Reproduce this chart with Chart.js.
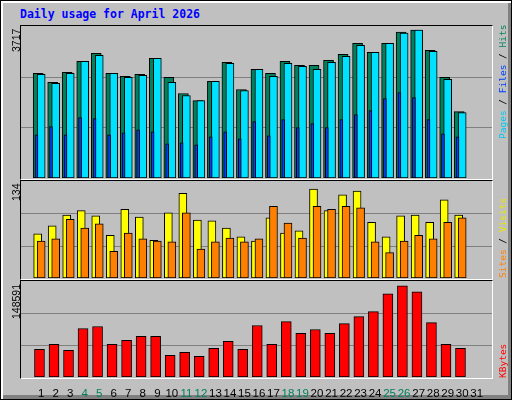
<!DOCTYPE html>
<html><head><meta charset="utf-8">
<script src="https://cdn.jsdelivr.net/npm/chart.js@4"></script>
<style>
html,body{margin:0;padding:0;}
#wrap{position:relative;width:510px;height:398px;background:#C0C0C0;border:1px solid #000;box-shadow:inset 2px 2px 0 #fff, inset -3px -4px 0 #808080;overflow:hidden;}
.t{position:absolute;white-space:nowrap;}
.rot{position:absolute;white-space:nowrap;transform:rotate(-90deg);transform-origin:left top;line-height:1;}
canvas{position:absolute;}
.frame{position:absolute;border-top:1px solid #000;border-left:1px solid #000;border-right:1px solid #fff;border-bottom:1px solid #fff;pointer-events:none;}
</style></head><body>
<div id="wrap">
<div class="t" style="left:19px;top:6px;font:bold 11.5px 'DejaVu Sans Mono';color:#0000FF;">Daily usage for April 2026</div>
<canvas id="c1" style="left:20px;top:25px;width:471px;height:152px" width="471" height="152"></canvas>
<canvas id="c2" style="left:20px;top:180px;width:471px;height:97px" width="471" height="97"></canvas>
<canvas id="c3" style="left:20px;top:280px;width:471px;height:118px" width="471" height="118"></canvas>
<div class="frame" style="left:19px;top:24px;width:471px;height:153px"></div>
<div class="frame" style="left:19px;top:179px;width:471px;height:98px"></div>
<div class="frame" style="left:19px;top:279px;width:471px;height:97px"></div>
<div class="rot" id="m1" style="left:9px;top:51px;font:10.5px 'Liberation Sans';color:#000"></div>
<div class="rot" id="m2" style="left:9px;top:200px;font:10.5px 'Liberation Sans';color:#000"></div>
<div class="rot" id="m3" style="left:9px;top:318px;font:10.5px 'Liberation Sans';color:#000"></div>
<div class="rot" style="left:496px;top:138px;font:9.5px 'DejaVu Sans Mono'"><span style="color:#00C8F0">Pages</span><span style="color:#000"> / </span><span style="color:#0040FF">Files</span><span style="color:#000"> / </span><span style="color:#00805C">Hits</span></div>
<div class="rot" style="left:496px;top:277px;font:9.5px 'DejaVu Sans Mono'"><span style="color:#FF8000">Sites</span><span style="color:#000"> / </span><span style="color:#E8E800">Visits</span></div>
<div class="rot" style="left:496px;top:377px;font:9.5px 'DejaVu Sans Mono'"><span style="color:#FF0000">KBytes</span></div>
</div>
<script>
const days = [1,2,3,4,5,6,7,8,9,10,11,12,13,14,15,16,17,18,19,20,21,22,23,24,25,26,27,28,29,30];
const dayLabels = [1,2,3,4,5,6,7,8,9,10,11,12,13,14,15,16,17,18,19,20,21,22,23,24,25,26,27,28,29,30,31];
const weekendDays = [4,5,11,12,18,19,25,26];
const hits  = [2560,2337,2583,2854,3050,2560,2485,2534,2927,2460,2066,1894,2362,2829,2165,2657,2560,2854,2755,2755,2878,3026,3296,3075,3296,3567,3617,3124,2460,1624];
const files = [2534,2312,2558,2854,3001,2558,2460,2509,2927,2337,2017,1894,2362,2804,2140,2657,2485,2804,2731,2657,2829,2977,3247,3075,3296,3542,3617,3100,2411,1599];
const pages = [1058,1255,1058,1476,1451,1058,1107,1181,1132,836,861,812,1009,1132,959,1378,1033,1427,1230,1328,1230,1427,1550,1648,1943,2091,1968,1427,1082,1009];
const visits = [61,72,87,93,86,59,95,84,52,90,117,80,79,69,57,51,83,62,65,123,93,115,120,77,57,86,87,77,108,87];
const sites  = [51,54,81,69,75,37,62,54,51,50,90,40,50,55,50,54,99,76,55,99,95,99,97,50,35,51,59,54,77,83];
const kbytes = [42896,50556,41364,75068,78132,50556,56684,62812,62812,33704,38300,32172,44428,55152,42896,79664,50556,85792,67408,73536,67408,82728,93452,101112,128688,140944,131752,84260,50556,44428];
const max1 = 3717, max2 = 134, max3 = 148591;

document.getElementById('m1').textContent = max1;
document.getElementById('m2').textContent = max2;
document.getElementById('m3').textContent = max3;

const pts = arr => arr.map((v,i)=>({x:days[i], y:v}));
const shiftPlugin = {
  id:'shift',
  beforeDatasetDraw(chart,args){const ds=chart.data.datasets[args.index];chart.ctx.save();chart.ctx.translate(ds.xShift||0,0);},
  afterDatasetDraw(chart){chart.ctx.restore();}
};
const gridPlugin = {
  id:'thirds',
  beforeDatasetsDraw(chart){
    const y=chart.scales.y, a=chart.chartArea, ctx=chart.ctx, m=y.max;
    ctx.save();ctx.strokeStyle='#808080';ctx.lineWidth=1;
    [m/3,2*m/3].forEach(v=>{const p=Math.round(y.getPixelForValue(v))+0.5;ctx.beginPath();ctx.moveTo(a.left,p);ctx.lineTo(a.right,p);ctx.stroke();});
    ctx.restore();
  }
};
function ds(data,color,width,shift,order){
  return {data:pts(data),backgroundColor:color,borderColor:'#000',borderWidth:1,borderSkipped:false,barThickness:width,xShift:shift,order:order,grouped:false};
}
function make(id,datasets,max,showX){
  return new Chart(document.getElementById(id),{
    type:'bar',
    data:{datasets},
    plugins:[gridPlugin,shiftPlugin],
    options:{
      responsive:false,animation:false,devicePixelRatio:1,
      layout:{padding:0},
      plugins:{legend:{display:false},tooltip:{enabled:false}},
      scales:{
        x:{type:'linear',min:0.133,max:31.53,display:showX,
           afterBuildTicks(s){s.ticks=dayLabels.map(v=>({value:v}));},
           afterFit(s){if(showX)s.height=22;},
           grid:{display:false},border:{display:false},
           ticks:{padding:2,autoSkip:false,maxRotation:0,font:{family:'Liberation Sans',size:11.5},
             color:c=>weekendDays.includes(c.tick.value)?'#00805C':'#000'}},
        y:{min:0,max:max,display:false}
      }
    }
  });
}
make('c1',[ds(hits,'#00805C',10,-3,3),ds(files,'#00E0FF',8,0,2),ds(pages,'#0040FF',3,-4.7,1)],max1,false);
make('c2',[ds(visits,'#FFFF00',8,-3.5,2),ds(sites,'#FF8000',8,0,1)],max2,false);
make('c3',[ds(kbytes,'#FF0000',10,-1.7,1)],max3,true);
</script>
</body></html>
